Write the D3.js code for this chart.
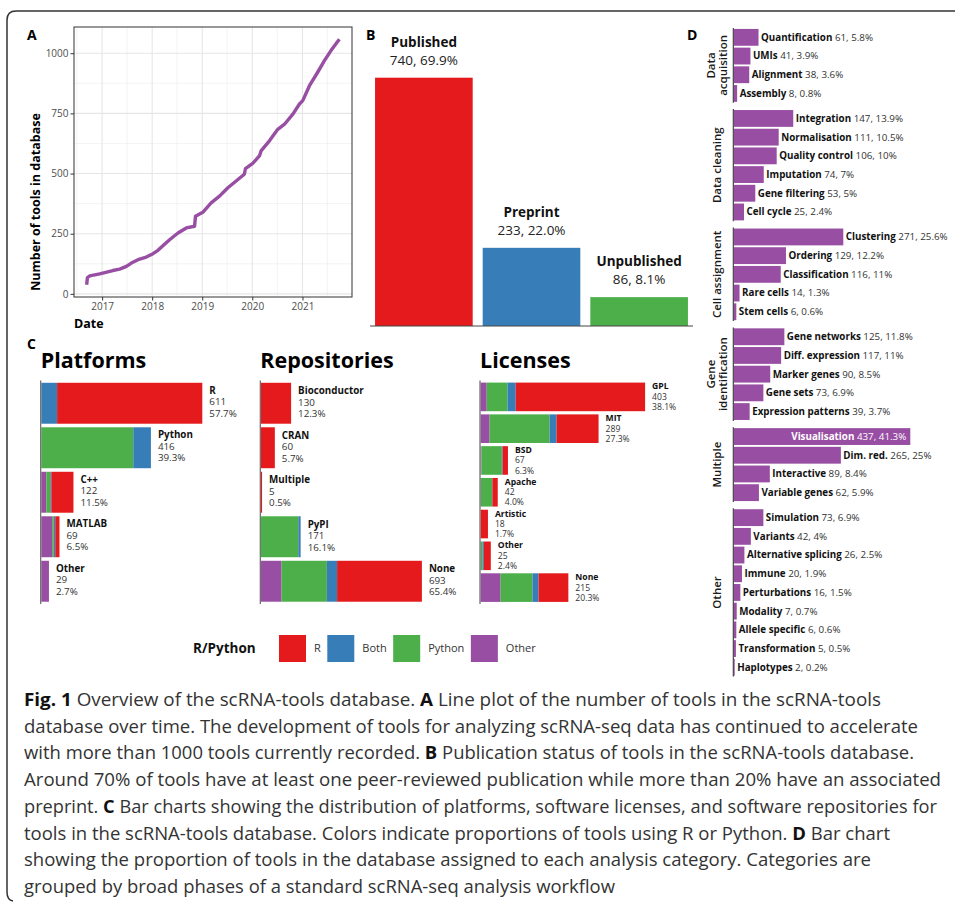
<!DOCTYPE html>
<html>
<head>
<meta charset="utf-8">
<script src="https://cdn.jsdelivr.net/npm/d3@7"></script>
<style>
  body { margin: 0; background: #fff; }
  svg { display: block; }
  text { font-family: "Open Sans", sans-serif; white-space: pre; }
</style>
</head>
<body>
<div id="fig"></div>
<script>
// ---- A: tools in database over time ----
const growthDates = ["2016-09-10","2016-09-16","2016-10-03","2016-12-14","2017-03-20","2017-05-09","2017-06-27",
  "2017-08-02","2017-09-20","2017-11-19","2018-01-07","2018-02-12","2018-03-20","2018-05-08","2018-07-08",
  "2018-09-07","2018-11-06","2018-11-13","2019-01-05","2019-03-07","2019-05-07","2019-07-07","2019-09-05",
  "2019-11-04","2019-11-12","2020-01-04","2020-02-22","2020-03-05","2020-05-05","2020-07-05","2020-08-23",
  "2020-10-23","2020-12-10","2021-01-03","2021-02-21","2021-04-22","2021-06-10","2021-07-28","2021-09-27"];
const growthCounts = [38, 68, 75, 83, 97, 103, 114, 128, 142, 153, 167, 181, 200, 225, 253, 274, 281, 323, 339,
  378, 406, 441, 469, 497, 520, 542, 573, 594, 636, 684, 705, 747, 789, 803, 865, 921, 969, 1011, 1058];
const yearTicks = [2017, 2018, 2019, 2020, 2021];
const countTicks = [0, 250, 500, 750, 1000];

// ---- B: publication status ----
const pubStatus = ["Published", "Preprint", "Unpublished"];
const pubCounts = [740, 233, 86];
const pubPercent = ["69.9%", "22.0%", "8.1%"];

// ---- C: R/Python split ----
const rpKeys = ["Other", "Python", "Both", "R"];      // stacking order, left to right
const legendKeys = ["R", "Both", "Python", "Other"];
const rpColours = {R: "#E41A1C", Both: "#377EB8", Python: "#4DAF4A", Other: "#984EA3"};

const platformNames = ["R", "Python", "C++", "MATLAB", "Other"];
const platformTotals = [611, 416, 122, 69, 29];
const platformPct = ["57.7%", "39.3%", "11.5%", "6.5%", "2.7%"];
const platformOther = [0, 0, 19, 41, 29];
const platformPython = [0, 349, 15, 6, 0];
const platformBoth = [60, 67, 4, 6, 0];
const platformR = [551, 0, 84, 16, 0];

const repoNames = ["Bioconductor", "CRAN", "Multiple", "PyPI", "None"];
const repoTotals = [130, 60, 5, 171, 693];
const repoPct = ["12.3%", "5.7%", "0.5%", "16.1%", "65.4%"];
const repoOther = [0, 0, 0, 0, 89];
const repoPython = [0, 0, 0, 161, 195];
const repoBoth = [0, 0, 0, 10, 44];
const repoR = [130, 60, 5, 0, 365];

const licenseNames = ["GPL", "MIT", "BSD", "Apache", "Artistic", "Other", "None"];
const licenseTotals = [403, 289, 67, 42, 18, 25, 215];
const licensePct = ["38.1%", "27.3%", "6.3%", "4.0%", "1.7%", "2.4%", "20.3%"];
const licenseOther = [15, 22, 2, 1, 0, 1, 49];
const licensePython = [51, 147, 50, 27, 0, 4, 78];
const licenseBoth = [20, 17, 2, 1, 0, 3, 15];
const licenseR = [317, 103, 13, 13, 18, 17, 73];

// ---- D: analysis categories ----
const phaseLabels = [["Data", "acquisition"], ["Data cleaning"], ["Cell assignment"],
  ["Gene", "identification"], ["Multiple"], ["Other"]];
const categoryNames = ["Quantification", "UMIs", "Alignment", "Assembly",
  "Integration", "Normalisation", "Quality control", "Imputation", "Gene filtering", "Cell cycle",
  "Clustering", "Ordering", "Classification", "Rare cells", "Stem cells",
  "Gene networks", "Diff. expression", "Marker genes", "Gene sets", "Expression patterns",
  "Visualisation", "Dim. red.", "Interactive", "Variable genes",
  "Simulation", "Variants", "Alternative splicing", "Immune", "Perturbations", "Modality",
  "Allele specific", "Transformation", "Haplotypes"];
const categoryPhase = [0,0,0,0, 1,1,1,1,1,1, 2,2,2,2,2, 3,3,3,3,3, 4,4,4,4, 5,5,5,5,5,5,5,5,5];
const categoryCounts = [61, 41, 38, 8, 147, 111, 106, 74, 53, 25, 271, 129, 116, 14, 6,
  125, 117, 90, 73, 39, 437, 265, 89, 62, 73, 42, 26, 20, 16, 7, 6, 5, 2];
const categoryPct = ["5.8%", "3.9%", "3.6%", "0.8%", "13.9%", "10.5%", "10%", "7%", "5%", "2.4%",
  "25.6%", "12.2%", "11%", "1.3%", "0.6%", "11.8%", "11%", "8.5%", "6.9%", "3.7%",
  "41.3%", "25%", "8.4%", "5.9%", "6.9%", "4%", "2.5%", "1.9%", "1.5%", "0.7%", "0.6%", "0.5%", "0.2%"];

const captionLines = [
  "**Fig. 1** Overview of the scRNA-tools database. **A** Line plot of the number of tools in the scRNA-tools",
  "database over time. The development of tools for analyzing scRNA-seq data has continued to accelerate",
  "with more than 1000 tools currently recorded. **B** Publication status of tools in the scRNA-tools database.",
  "Around 70% of tools have at least one peer-reviewed publication while more than 20% have an associated",
  "preprint. **C** Bar charts showing the distribution of platforms, software licenses, and software repositories for",
  "tools in the scRNA-tools database. Colors indicate proportions of tools using R or Python. **D** Bar chart",
  "showing the proportion of tools in the database assigned to each analysis category. Categories are",
  "grouped by broad phases of a standard scRNA-seq analysis workflow"
];
// right end of each caption line in the original typesetting
const captionLineEnds = [881, 918, 914, 941, 937, 890, 871, 615];

const svg = d3.select("#fig").append("svg")
  .attr("width", 955)
  .attr("height", 904);

// figure frame
svg.append("path")
  .attr("d", "M955,11 L16,11 Q7,11 7,20 L7,892 Q7,900 13,901")
  .attr("fill", "none")
  .attr("stroke", "#333")
  .attr("stroke-width", 1.5);

function panelLetter(txt, x, y) {
  svg.append("text").attr("x", x).attr("y", y)
    .attr("font-size", 14).attr("font-weight", 700).attr("fill", "#000").text(txt);
}
panelLetter("A", 27, 40);
panelLetter("B", 366, 40);
panelLetter("C", 27, 349);
panelLetter("D", 687, 40);

// ================= A =================
const aBox = {left: 74, right: 352, top: 27, bottom: 297};
const parseDate = d3.timeParse("%Y-%m-%d");
const growth = growthDates.map((d, i) => ({date: parseDate(d), n: growthCounts[i]}));

const dExt = d3.extent(growth, d => d.date);
const dPad = (dExt[1] - dExt[0]) * 0.05;
const xA = d3.scaleTime()
  .domain([new Date(+dExt[0] - dPad), new Date(+dExt[1] + dPad)])
  .range([aBox.left, aBox.right]);
const nExt = d3.extent(growth, d => d.n);
const nPad = (nExt[1] - nExt[0]) * 0.05;
const yA = d3.scaleLinear()
  .domain([nExt[0] - nPad, nExt[1] + nPad])
  .range([aBox.bottom, aBox.top]);

const gA = svg.append("g");
const yearDates = yearTicks.map(y => new Date(y, 0, 1));
const midYears = d3.range(2016, 2022).map(y => new Date(y, 6, 1))
  .filter(d => d > xA.domain()[0] && d < xA.domain()[1]);
const midCounts = [125, 375, 625, 875];

// minor grid
gA.selectAll(".vminor").data(midYears).enter().append("line")
  .attr("x1", d => xA(d)).attr("x2", d => xA(d))
  .attr("y1", aBox.top).attr("y2", aBox.bottom)
  .attr("stroke", "#ebebeb").attr("stroke-width", 0.6);
gA.selectAll(".hminor").data(midCounts).enter().append("line")
  .attr("x1", aBox.left).attr("x2", aBox.right)
  .attr("y1", d => yA(d)).attr("y2", d => yA(d))
  .attr("stroke", "#ebebeb").attr("stroke-width", 0.6);
// major grid
gA.selectAll(".vmajor").data(yearDates).enter().append("line")
  .attr("x1", d => xA(d)).attr("x2", d => xA(d))
  .attr("y1", aBox.top).attr("y2", aBox.bottom)
  .attr("stroke", "#e6e6e6").attr("stroke-width", 1.1);
gA.selectAll(".hmajor").data(countTicks).enter().append("line")
  .attr("x1", aBox.left).attr("x2", aBox.right)
  .attr("y1", d => yA(d)).attr("y2", d => yA(d))
  .attr("stroke", "#e6e6e6").attr("stroke-width", 1.1);

gA.append("path")
  .datum(growth)
  .attr("fill", "none")
  .attr("stroke", "#984EA3")
  .attr("stroke-width", 3.4)
  .attr("stroke-linejoin", "round")
  .attr("d", d3.line().x(d => xA(d.date)).y(d => yA(d.n)));

gA.append("rect")
  .attr("x", aBox.left).attr("y", aBox.top)
  .attr("width", aBox.right - aBox.left).attr("height", aBox.bottom - aBox.top)
  .attr("fill", "none").attr("stroke", "#333").attr("stroke-width", 1);

const axA = gA.append("g")
  .attr("transform", `translate(0,${aBox.bottom})`)
  .call(d3.axisBottom(xA).tickValues(yearDates).tickFormat(d3.timeFormat("%Y")).tickSize(3.5).tickPadding(2));
const ayA = gA.append("g")
  .attr("transform", `translate(${aBox.left},0)`)
  .call(d3.axisLeft(yA).tickValues(countTicks).tickFormat(d3.format("d")).tickSize(3.5).tickPadding(2));
[axA, ayA].forEach(ax => {
  ax.select(".domain").remove();
  ax.selectAll(".tick line").attr("stroke", "#333");
  ax.selectAll(".tick text").attr("fill", "#4d4d4d").attr("font-size", 10)
    .attr("font-family", "Open Sans, sans-serif");
});

gA.append("text")
  .attr("transform", "translate(40,202) rotate(-90)")
  .attr("text-anchor", "middle")
  .attr("font-size", 12.5).attr("font-weight", 700).attr("fill", "#000")
  .text("Number of tools in database");
gA.append("text")
  .attr("x", aBox.left).attr("y", 328)
  .attr("font-size", 12.5).attr("font-weight", 700).attr("fill", "#000")
  .text("Date");

// ================= B =================
const gB = svg.append("g");
const xB = d3.scaleBand().domain(pubStatus).range([370, 693]).paddingInner(0.093).paddingOuter(0.047);
const yB = d3.scaleLinear().domain([0, 740]).range([326, 77.7]);
const pub = pubStatus.map((s, i) => ({status: s, n: pubCounts[i], pct: pubPercent[i]}));
const pubColours = ["#E41A1C", "#377EB8", "#4DAF4A"];

gB.selectAll("rect").data(pub).enter().append("rect")
  .attr("x", d => xB(d.status))
  .attr("y", d => yB(d.n))
  .attr("width", xB.bandwidth())
  .attr("height", d => yB(0) - yB(d.n))
  .attr("fill", (d, i) => pubColours[i]);
gB.append("line")
  .attr("x1", 370).attr("x2", 693).attr("y1", yB(0)).attr("y2", yB(0))
  .attr("stroke", "#444").attr("stroke-width", 1.2);
gB.selectAll(".pname").data(pub).enter().append("text")
  .attr("x", d => xB(d.status) + xB.bandwidth() / 2)
  .attr("y", d => yB(d.n) - 31)
  .attr("text-anchor", "middle")
  .attr("font-size", 13.5).attr("font-weight", 700).attr("fill", "#111")
  .text(d => d.status);
gB.selectAll(".pval").data(pub).enter().append("text")
  .attr("x", d => xB(d.status) + xB.bandwidth() / 2)
  .attr("y", d => yB(d.n) - 13)
  .attr("text-anchor", "middle")
  .attr("font-size", 13.5).attr("fill", "#222")
  .text(d => `${d.n}, ${d.pct}`);

// ================= C =================
function stackedPanel(opts) {
  const g = svg.append("g");
  const rows = opts.names.map((n, i) => ({
    name: n, total: opts.totals[i], pct: opts.pct[i],
    Other: opts.other[i], Python: opts.python[i], Both: opts.both[i], R: opts.r[i]
  }));
  const x = d3.scaleLinear().domain([0, d3.max(opts.totals)]).range([opts.x0 + 0.6, opts.x0 + 0.6 + opts.maxW]);
  const y = d3.scaleBand().domain(opts.names).range([381, 603.5])
    .paddingInner(opts.padIn).paddingOuter(opts.padIn / 2);

  g.append("text")
    .attr("x", opts.x0).attr("y", 368)
    .attr("font-size", 21.5).attr("font-weight", 700).attr("fill", "#000")
    .text(opts.title);

  const series = d3.stack().keys(rpKeys)(rows);
  g.selectAll(".layer").data(series).enter().append("g")
    .attr("fill", d => rpColours[d.key])
    .selectAll("rect").data(d => d).enter().append("rect")
    .attr("x", d => x(d[0]))
    .attr("y", d => y(d.data.name))
    .attr("width", d => x(d[1]) - x(d[0]))
    .attr("height", y.bandwidth());

  g.append("line")
    .attr("x1", opts.x0).attr("x2", opts.x0).attr("y1", 380.5).attr("y2", 604)
    .attr("stroke", "#666").attr("stroke-width", 1.2);

  const lab = g.selectAll(".lab").data(rows).enter().append("text")
    .attr("font-size", opts.fs).attr("fill", "#222");
  ["name", "total", "pct"].forEach((k, j) => {
    lab.append("tspan")
      .attr("x", d => x(d.total) + 7)
      .attr("y", d => y(d.name) + opts.firstBase + j * opts.lineH)
      .attr("font-weight", j === 0 ? 700 : 400)
      .attr("fill", j === 0 ? "#111" : "#333")
      .text(d => d[k]);
  });
}

stackedPanel({title: "Platforms", x0: 40.7, maxW: 161, padIn: 0.08, fs: 9.8, lineH: 11.7, firstBase: 10.8,
  names: platformNames, totals: platformTotals, pct: platformPct,
  other: platformOther, python: platformPython, both: platformBoth, r: platformR});
stackedPanel({title: "Repositories", x0: 260.3, maxW: 161, padIn: 0.08, fs: 9.8, lineH: 11.7, firstBase: 11.3,
  names: repoNames, totals: repoTotals, pct: repoPct,
  other: repoOther, python: repoPython, both: repoBoth, r: repoR});
stackedPanel({title: "Licenses", x0: 480, maxW: 164.5, padIn: 0.1, fs: 8.6, lineH: 10.3, firstBase: 6.9,
  names: licenseNames, totals: licenseTotals, pct: licensePct,
  other: licenseOther, python: licensePython, both: licenseBoth, r: licenseR});

// legend: key, label 35px right of key start, next key 6.5px after label
const gL = svg.append("g");
gL.append("text").attr("x", 193).attr("y", 653)
  .attr("font-size", 13.5).attr("font-weight", 700).attr("fill", "#111").text("R/Python");
let legCursor = 279;
legendKeys.forEach(k => {
  gL.append("rect")
    .attr("x", legCursor).attr("y", 635)
    .attr("width", 27).attr("height", 27)
    .attr("fill", rpColours[k]);
  const lt = gL.append("text")
    .attr("x", legCursor + 35).attr("y", 652)
    .attr("font-size", 11).attr("fill", "#333").text(k);
  legCursor += 35 + lt.node().getComputedTextLength() + 6.5;
});

// ================= D =================
const gD = svg.append("g");
const dX0 = 733.3;
const xD = d3.scaleLinear().domain([0, d3.max(categoryCounts)]).range([dX0 + 0.6, dX0 + 177]);
const dStep = 18.7, dGap = 6.3;
let dTop = 28;
phaseLabels.forEach((lines, p) => {
  const cats = categoryNames.filter((c, i) => categoryPhase[i] === p);
  const rows = cats.map(c => {
    const i = categoryNames.indexOf(c);
    return {name: c, n: categoryCounts[i], pct: categoryPct[i]};
  });
  const h = cats.length * dStep;
  const y = d3.scaleBand().domain(cats).range([dTop, dTop + h]).paddingInner(0.1).paddingOuter(0.05);
  const maxN = d3.max(categoryCounts);

  gD.selectAll(null).data(rows).enter().append("rect")
    .attr("x", xD(0))
    .attr("y", d => y(d.name))
    .attr("width", d => xD(d.n) - xD(0))
    .attr("height", y.bandwidth())
    .attr("fill", "#984EA3");

  gD.append("line")
    .attr("x1", dX0).attr("x2", dX0).attr("y1", dTop).attr("y2", dTop + h)
    .attr("stroke", "#333").attr("stroke-width", 1.1);

  const t = gD.selectAll(null).data(rows).enter().append("text")
    .attr("x", d => d.n === maxN ? xD(d.n) - 4 : xD(d.n) + 2.5)
    .attr("y", d => y(d.name) + y.bandwidth() / 2)
    .attr("dy", "0.35em")
    .attr("text-anchor", d => d.n === maxN ? "end" : "start")
    .attr("font-size", 9.8);
  t.append("tspan").attr("font-weight", 700)
    .attr("fill", d => d.n === maxN ? "#fff" : "#111").text(d => d.name);
  t.append("tspan")
    .attr("fill", d => d.n === maxN ? "#fff" : "#333").text(d => ` ${d.n}, ${d.pct}`);

  const cy = dTop + h / 2;
  const cx = 716.7;
  lines.forEach((ln, k) => {
    gD.append("text")
      .attr("transform", `translate(${cx + (k - (lines.length - 1) / 2) * 12},${cy}) rotate(-90)`)
      .attr("text-anchor", "middle")
      .attr("dy", "0.35em")
      .attr("font-size", 11.5).attr("font-weight", 600).attr("fill", "#1a1a1a")
      .text(ln);
  });
  dTop += h + dGap;
});

// ================= caption =================
const gC = svg.append("g");
captionLines.forEach((line, i) => {
  const t = gC.append("text")
    .attr("x", 24).attr("y", 706 + i * 26.7)
    .attr("font-size", 18.5)
    .attr("textLength", captionLineEnds[i] - 24)
    .attr("lengthAdjust", "spacingAndGlyphs");
  line.split("**").forEach((part, j) => {
    if (!part) return;
    t.append("tspan")
      .attr("font-weight", j % 2 ? 700 : 400)
      .attr("fill", j % 2 ? "#111" : "#333")
      .text(part);
  });
});
</script>
</body>
</html>
